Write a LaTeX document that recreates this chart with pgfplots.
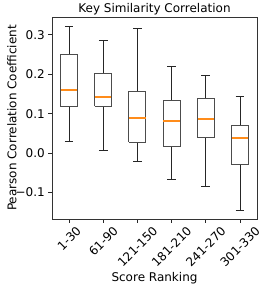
\documentclass[border=0pt]{standalone}
\usepackage{fontspec}
\setmainfont{DejaVu Sans}
\usepackage{graphicx}
\usepackage{pgfplots}
\pgfplotsset{compat=1.18}
\definecolor{mplorange}{HTML}{FF8C1A}
\begin{document}
\begin{tikzpicture}
\begin{axis}[
  scale only axis,
  width=205pt, height=202pt,
  xmin=0.5, xmax=6.5,
  ymin=-0.167, ymax=0.345,
  xtick={1,2,3,4,5,6},
  xticklabels={\rotatebox{45}{1-30},\rotatebox{45}{61-90},\rotatebox{45}{121-150},\rotatebox{45}{181-210},\rotatebox{45}{241-270},\rotatebox{45}{301-330}},
  x tick label style={anchor=north, inner sep=0pt, yshift=-3pt, font=\fontsize{12}{14}\selectfont},
  ytick={-0.1,0,0.1,0.2,0.3},
  yticklabels={−0.1,0.0,0.1,0.2,0.3},
  y tick label style={anchor=east, inner sep=0pt, xshift=-3.5pt, font=\fontsize{12}{14}\selectfont},
  tick align=outside,
  xtick pos=left, ytick pos=left,
  major tick length=3.5pt,
  tick style={black!85, line width=0.6pt},
  axis line style={line width=0.6pt, black!80},
  every axis title shift=0pt,
  title={Key Similarity Correlation},
  title style={at={(axis description cs:0.5,1)}, anchor=base, yshift=4pt, font=\fontsize{12}{14}\selectfont},
  xlabel={Score Ranking},
  ylabel={Pearson Correlation Coefficient},
  xlabel style={at={(axis description cs:0.5,0)}, anchor=base, yshift=-62pt, font=\fontsize{12}{14}\selectfont},
  ylabel style={at={(axis description cs:-0.195,0.5)}, anchor=center, font=\fontsize{12}{14}\selectfont},
  mybox/.style={draw=black!70, line width=1pt, mark=none},
  mywhisk/.style={draw=black!85, line width=0.7pt, mark=none},
  mymed/.style={color=mplorange, draw=mplorange, line width=1.6pt, mark=none},
]
% Box 1: 1-30  (lw 0.029, q1 0.118, med 0.160, q3 0.251, uw 0.322)
\addplot[mywhisk] coordinates {(1,0.251)(1,0.322)};
\addplot[mywhisk] coordinates {(1,0.118)(1,0.029)};
\addplot[mywhisk] coordinates {(0.875,0.322)(1.125,0.322)};
\addplot[mywhisk] coordinates {(0.875,0.029)(1.125,0.029)};
\addplot[mybox] coordinates {(0.75,0.118)(1.25,0.118)(1.25,0.251)(0.75,0.251)(0.75,0.118)};
\addplot[mymed] coordinates {(0.76,0.160)(1.24,0.160)};
% Box 2: 61-90 (0.006, 0.119, 0.142, 0.201, 0.287)
\addplot[mywhisk] coordinates {(2,0.201)(2,0.287)};
\addplot[mywhisk] coordinates {(2,0.119)(2,0.006)};
\addplot[mywhisk] coordinates {(1.875,0.287)(2.125,0.287)};
\addplot[mywhisk] coordinates {(1.875,0.006)(2.125,0.006)};
\addplot[mybox] coordinates {(1.75,0.119)(2.25,0.119)(2.25,0.201)(1.75,0.201)(1.75,0.119)};
\addplot[mymed] coordinates {(1.76,0.142)(2.24,0.142)};
% Box 3: 121-150 (-0.021, 0.028, 0.089, 0.157, 0.316)
\addplot[mywhisk] coordinates {(3,0.157)(3,0.316)};
\addplot[mywhisk] coordinates {(3,0.028)(3,-0.021)};
\addplot[mywhisk] coordinates {(2.875,0.316)(3.125,0.316)};
\addplot[mywhisk] coordinates {(2.875,-0.021)(3.125,-0.021)};
\addplot[mybox] coordinates {(2.75,0.028)(3.25,0.028)(3.25,0.157)(2.75,0.157)(2.75,0.028)};
\addplot[mymed] coordinates {(2.76,0.089)(3.24,0.089)};
% Box 4: 181-210 (-0.066, 0.017, 0.081, 0.134, 0.219)
\addplot[mywhisk] coordinates {(4,0.134)(4,0.219)};
\addplot[mywhisk] coordinates {(4,0.017)(4,-0.066)};
\addplot[mywhisk] coordinates {(3.875,0.219)(4.125,0.219)};
\addplot[mywhisk] coordinates {(3.875,-0.066)(4.125,-0.066)};
\addplot[mybox] coordinates {(3.75,0.017)(4.25,0.017)(4.25,0.134)(3.75,0.134)(3.75,0.017)};
\addplot[mymed] coordinates {(3.76,0.081)(4.24,0.081)};
% Box 5: 241-270 (-0.085, 0.040, 0.086, 0.138, 0.197)
\addplot[mywhisk] coordinates {(5,0.138)(5,0.197)};
\addplot[mywhisk] coordinates {(5,0.040)(5,-0.085)};
\addplot[mywhisk] coordinates {(4.875,0.197)(5.125,0.197)};
\addplot[mywhisk] coordinates {(4.875,-0.085)(5.125,-0.085)};
\addplot[mybox] coordinates {(4.75,0.040)(5.25,0.040)(5.25,0.138)(4.75,0.138)(4.75,0.040)};
\addplot[mymed] coordinates {(4.76,0.086)(5.24,0.086)};
% Box 6: 301-330 (-0.144, -0.028, 0.039, 0.070, 0.143)
\addplot[mywhisk] coordinates {(6,0.070)(6,0.143)};
\addplot[mywhisk] coordinates {(6,-0.028)(6,-0.144)};
\addplot[mywhisk] coordinates {(5.875,0.143)(6.125,0.143)};
\addplot[mywhisk] coordinates {(5.875,-0.144)(6.125,-0.144)};
\addplot[mybox] coordinates {(5.75,-0.028)(6.25,-0.028)(6.25,0.070)(5.75,0.070)(5.75,-0.028)};
\addplot[mymed] coordinates {(5.76,0.039)(6.24,0.039)};
\end{axis}
\pgfresetboundingbox
\path[use as bounding box] ([shift={(-52pt,-68pt)}]current axis.south west) rectangle ([shift={(9pt,17pt)}]current axis.north east);
\end{tikzpicture}
\end{document}
